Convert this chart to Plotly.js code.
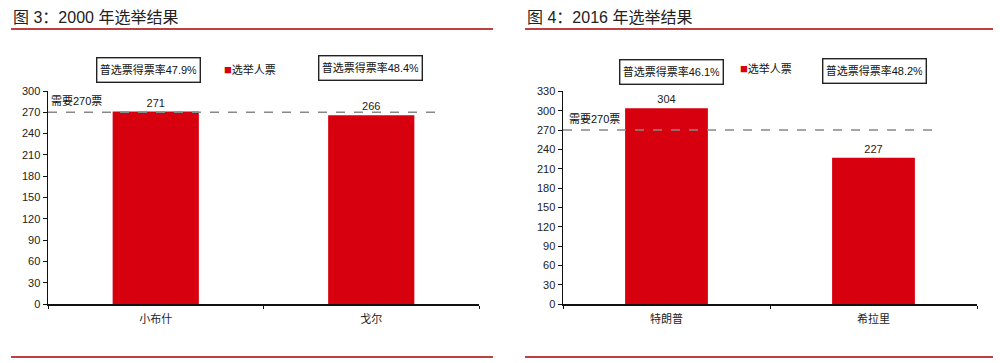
<!DOCTYPE html>
<html>
<head>
<meta charset="utf-8">
<script src="https://cdn.plot.ly/plotly-3.0.1.min.js"></script>
<style>
html,body{margin:0;padding:0;background:#fff;}
#chart{width:1000px;height:363px;}
</style>
</head>
<body>
<div id="chart"></div>
<script>
// ---- Data ----
const title1 = '图 3：2000 年选举结果';
const title2 = '图 4：2016 年选举结果';
const candidates2000 = ['小布什', '戈尔'];
const electoralVotes2000 = [271, 266];
const popularShare2000 = [47.9, 48.4];
const candidates2016 = ['特朗普', '希拉里'];
const electoralVotes2016 = [304, 227];
const popularShare2016 = [46.1, 48.2];
const threshold = 270;
const thresholdLabel = '需要270票';
const seriesName = '选举人票';
const popularLabel = '普选票得票率';

// ---- Style ----
const FONT = 'Liberation Sans, Arial, Noto Sans CJK SC, sans-serif';
const RED = '#d7000f';
const RULE = '#a80000';
const TXT = '#222';

const traces = [
  {type:'bar', x:candidates2000, y:electoralVotes2000, xaxis:'x', yaxis:'y',
   name:seriesName, showlegend:false, marker:{color:RED, line:{width:0}},
   texttemplate:'%{y}', textposition:'outside', cliponaxis:false,
   textfont:{size:11, color:TXT, family:FONT}, hoverinfo:'x+y'},
  {type:'bar', x:candidates2016, y:electoralVotes2016, xaxis:'x2', yaxis:'y2',
   name:seriesName, showlegend:false, marker:{color:RED, line:{width:0}},
   texttemplate:'%{y}', textposition:'outside', cliponaxis:false,
   textfont:{size:11, color:TXT, family:FONT}, hoverinfo:'x+y'}
];

function xax(d0, d1, anchor){
  return {domain:[d0, d1], anchor:anchor, type:'category', showline:true, linecolor:'#111', linewidth:1.5,
    ticks:'outside', tickson:'boundaries', ticklen:3, tickcolor:'#111', tickwidth:1,
    showgrid:false, zeroline:false, tickfont:{size:11, color:TXT, family:FONT}, ticklabelstandoff:4,
    fixedrange:true};
}
function yax(anchor, top, range){
  return {domain:[0.1625, top], anchor:anchor, range:range, dtick:30, tick0:0, showline:true,
    linecolor:'#111', linewidth:1.5, ticks:'outside', ticklen:4, tickcolor:'#111', tickwidth:1,
    showgrid:false, zeroline:false, tickfont:{size:11, color:TXT, family:FONT}, fixedrange:true};
}

const shapes = [
  // red rules
  {type:'line', xref:'paper', yref:'paper', x0:0.011, x1:0.493, y0:1-29/363, y1:1-29/363, line:{color:RULE, width:1.5}},
  {type:'line', xref:'paper', yref:'paper', x0:0.525, x1:0.993, y0:1-29/363, y1:1-29/363, line:{color:RULE, width:1.5}},
  {type:'line', xref:'paper', yref:'paper', x0:0.011, x1:0.493, y0:1-357/363, y1:1-357/363, line:{color:RULE, width:1.5}},
  {type:'line', xref:'paper', yref:'paper', x0:0.525, x1:0.993, y0:1-357/363, y1:1-357/363, line:{color:RULE, width:1.5}},
  // threshold lines
  {type:'line', xref:'x domain', yref:'y', x0:0, x1:0.915, y0:threshold, y1:threshold, line:{color:'#888', width:1.5, dash:'dash'}},
  {type:'line', xref:'x2 domain', yref:'y2', x0:0, x1:0.91, y0:threshold, y1:threshold, line:{color:'#888', width:1.5, dash:'dash'}}
];

function boxAnn(xref, x, share, xshift, ypx){
  return {xref:xref, yref:'paper', x:x, y:1-ypx/363, xshift:xshift, showarrow:false,
    text:popularLabel + share.toFixed(1) + '%', font:{size:11, color:'#111', family:FONT},
    bordercolor:'#222', borderwidth:1.4, bgcolor:'#fff', borderpad:3,
    width:96, height:17, align:'center', xanchor:'center', yanchor:'middle'};
}
function legendAnn(xpx, ypx){
  return {xref:'paper', yref:'paper', x:xpx/1000, y:1-ypx/363, xanchor:'left', yanchor:'middle', showarrow:false,
    text:'<span style="color:' + RED + ';font-size:13px">■</span>' + seriesName,
    font:{size:11, color:'#111', family:FONT}};
}

const annotations = [
  {xref:'paper', yref:'paper', x:0.011, y:1-17/363, xanchor:'left', yanchor:'middle', showarrow:false,
   text:title1, font:{size:16, color:'#222', family:FONT}},
  {xref:'paper', yref:'paper', x:0.525, y:1-17/363, xanchor:'left', yanchor:'middle', showarrow:false,
   text:title2, font:{size:16, color:'#222', family:FONT}},
  boxAnn('x', candidates2000[0], popularShare2000[0], -7, 69.5),
  boxAnn('x', candidates2000[1], popularShare2000[1], -1, 68.5),
  boxAnn('x2', candidates2016[0], popularShare2016[0], 5, 71.5),
  boxAnn('x2', candidates2016[1], popularShare2016[1], 1, 71),
  legendAnn(222, 69),
  legendAnn(738, 68),
  {xref:'x domain', yref:'y', x:0.003, y:threshold, xanchor:'left', yanchor:'bottom', yshift:3, showarrow:false,
   text:thresholdLabel, font:{size:11, color:'#111', family:FONT}},
  {xref:'x2 domain', yref:'y2', x:0.01, y:threshold, xanchor:'left', yanchor:'bottom', yshift:3, showarrow:false,
   text:thresholdLabel, font:{size:11, color:'#111', family:FONT}}
];

const layout = {
  width:1000, height:363, margin:{l:0, r:0, t:0, b:0},
  paper_bgcolor:'#fff', plot_bgcolor:'#fff',
  font:{family:FONT, size:11, color:TXT},
  bargap:0.6, showlegend:false,
  xaxis:xax(0.048, 0.479, 'y'),
  yaxis:yax('x', 1-91/363, [0, 300]),
  xaxis2:xax(0.563, 0.977, 'y2'),
  yaxis2:yax('x2', 1-91.4/363, [0, 330]),
  shapes:shapes, annotations:annotations
};

Plotly.newPlot('chart', traces, layout, {staticPlot:true, displayModeBar:false});
</script>
</body>
</html>
